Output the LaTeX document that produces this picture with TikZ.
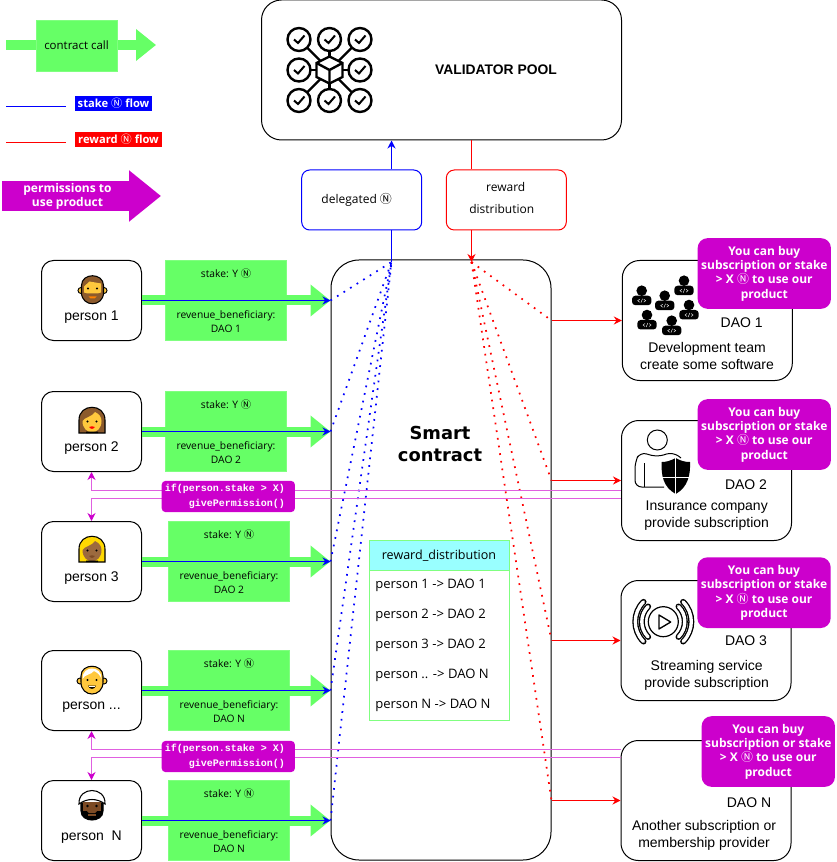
\documentclass[tikz,border=0pt]{standalone}
\usepackage{fontspec}
\setmainfont{Liberation Sans}
\newfontfamily\softfont{Open Sans}
\newfontfamily\symfont{Noto Sans CJK JP}
\newfontfamily\headfont{DejaVu Sans}
\newfontfamily\codefont{Liberation Mono}
\usetikzlibrary{arrows.meta,calc}
\newcommand{\Ncoin}{{\symfont\mdseries Ⓝ}}
\newcommand{\moreperson}{person ...}
\definecolor{flowgreen}{HTML}{66FF66}
\definecolor{edgegreen}{HTML}{80FF80}
\definecolor{perm}{HTML}{CC00CC}
\definecolor{permpale}{HTML}{E060E0}
\definecolor{headcyan}{HTML}{99FFFF}
\definecolor{yskin}{HTML}{FFC83D}
\definecolor{bskin}{HTML}{9C6A3E}
\definecolor{dskin}{HTML}{7C4A24}
\definecolor{bhair}{HTML}{8C5A2C}
\definecolor{yhair}{HTML}{FFD800}
\tikzset{
  personbox/.style={draw,fill=white,line width=.75pt,rounded corners=9pt,minimum width=75pt,minimum height=60pt,inner sep=0pt},
  daobox/.style={draw,fill=white,line width=.75pt,rounded corners=13pt,minimum width=127.5pt,minimum height=90pt,inner sep=0pt},
  bigbox/.style={draw,fill=white,line width=.75pt,rounded corners=15pt,inner sep=0pt},
  flowbox/.style={draw,fill=white,line width=.75pt,rounded corners=6pt,minimum width=90pt,minimum height=45pt,inner sep=0pt},
  callbox/.style={fill=flowgreen,draw=edgegreen,line width=.4pt,minimum width=90.5pt,minimum height=60pt,inner sep=0pt},
  callarrow/.style={draw=flowgreen,line width=7.5pt,-{Triangle[length=15pt,width=23pt]}},
  permarrow/.style={draw=perm,line width=22.5pt,-{Triangle[length=24pt,width=37pt]}},
  stakeline/.style={draw,color=blue,line width=.75pt},
  rewardline/.style={draw,color=red,line width=.75pt},
  tipped/.style={-{Stealth[length=6pt,width=6pt]}},
  stakedots/.style={draw,color=blue,line width=1.3pt,dash pattern=on 1.3pt off 4.5pt},
  rewarddots/.style={draw,color=red,line width=1.3pt,dash pattern=on 1.3pt off 4.5pt},
  permline/.style={draw,color=permpale,line width=.75pt,-{Stealth[length=6pt,width=6pt,color=perm]}},
  permbox/.style={fill=perm,rounded corners=3pt,minimum width=100pt,minimum height=23.5pt,inner sep=0pt},
  permtext/.style={text=white,font=\codefont\bfseries\fontsize{7.5pt}{11pt}\selectfont,align=right,inner sep=0pt},
  tipbox/.style={fill=perm,rounded corners=7.5pt,minimum width=100pt,minimum height=53pt,inner sep=0pt,text=white,align=center,font=\softfont\bfseries\fontsize{9pt}{10.8pt}\selectfont},
  softlbl/.style={inner sep=0pt,font=\softfont\fontsize{7.7pt}{10.5pt}\selectfont,align=center},
  sidelbl/.style={softlbl,font=\softfont\fontsize{9pt}{10.5pt}\selectfont},
  keylbl/.style={text=white,minimum width=57.75pt,minimum height=11.25pt,inner sep=0pt,font=\softfont\bfseries\fontsize{8.4pt}{10pt}\selectfont},
  mainlbl/.style={inner sep=0pt,font=\fontsize{10.5pt}{12.75pt}\selectfont,align=center},
  rowlbl/.style={inner sep=0pt,anchor=west,font=\softfont\fontsize{9.8pt}{10pt}\selectfont}
}
\newcommand{\womanface}[3]{
  \draw[fill=#2,line width=.8pt] (-13,13) -- (-13,0) .. controls (-13,-17) and (13,-17) .. (13,0) -- (13,13) -- (6,13) -- (-6,13) -- cycle;
  \fill[#1] (-9.5,1) .. controls (-9.5,16) and (9.5,16) .. (9.5,1) .. controls (9.5,-3) and (7,-6) .. (3,-8) .. controls (0,-3) and (-7,-3) .. (-9.5,1) -- cycle;
  \fill[black] (-4.5,1.5) circle (1.2) (4.5,1.5) circle (1.2) (-6,13) rectangle (6,11.5);
  \fill[#3] (-3,7) .. controls (-1,6) and (1,6) .. (3,7) .. controls (1,9.5) and (-1,9.5) .. (-3,7) -- cycle;
}
\begin{document}
\begin{tikzpicture}[x=.75pt,y=-.75pt]
      \useasboundingbox (0,0) rectangle (836,862);
      \def \Persons{
        p1/300.5/person 1/226/DAO 1,
        p2/431.5/person 2/226/DAO 2,
        p3/561.5/person 3/229/DAO 2,
        p4/690.5/\moreperson/229/DAO N,
        pn/820.5/person\ \ N/229/DAO N}
      \def \Daos{
        dao1/707.3/320.5,
        dao2/706.5/480.5,
        dao3/706/640.5,
        daon/706/800.5}
      \def \Rows{
        585.5/person 1 -> DAO 1,
        615.5/person 2 -> DAO 2,
        645.5/person 3 -> DAO 2,
        675.5/person .. -> DAO N,
        705.5/person N -> DAO N}
      \def \Offers{
        tip1/764.3/273.5,
        tip2/764.3/434.5,
        tip3/764/592.7,
        tipn/768.3/751.5}

      \coordinate (callstart) at (6,45);
      \coordinate (callend) at (156,45);
      \coordinate (permstart) at (2,196);
      \coordinate (permend) at (161,196);
      \coordinate (stakea) at (6,106.5);
      \coordinate (stakeb) at (66,106.5);
      \coordinate (rewarda) at (6,142.5);
      \coordinate (rewardb) at (66,142.5);
      \coordinate (stakeout) at (391.5,262);
      \coordinate (rewardout) at (471.5,262);

      \path[callarrow] (callstart) -- (callend);
      \node[callbox,minimum width=60.5pt,minimum height=38pt,softlbl,font=\softfont\fontsize{8.6pt}{10pt}\selectfont] (callkey) at (76.5,45.5) {contract call};
      \path[stakeline] (stakea) -- (stakeb);
      \path[rewardline] (rewarda) -- (rewardb);
      \node[fill=blue,keylbl] (stakekey) at (113.5,103.5) {stake \Ncoin\ flow};
      \node[fill=red,keylbl,minimum width=65.25pt] (rewardkey) at (118.5,139.5) {reward \Ncoin\ flow};
      \path[permarrow] (permstart) -- (permend);
      \node[text=white,align=center,inner sep=0pt,font=\softfont\bfseries\fontsize{9pt}{10.2pt}\selectfont] (permkey) at (67.5,196.5) {permissions to\\use product};

      \node[bigbox,minimum width=270pt,minimum height=105pt] (pool) at (441.5,70) {};
      \node[inner sep=0pt,font=\bfseries\fontsize{10.4pt}{12pt}\selectfont] (poollbl) at (496,70) {VALIDATOR POOL};
      \node[flowbox,draw=blue] (delegated) at (361.7,200) {};
      \node[sidelbl] (delegatedlbl) at (356.7,200) {delegated \Ncoin};
      \node[flowbox,draw=red] (rewardbox) at (506.3,200) {};
      \node[sidelbl] (rewardlbla) at (505.7,187.5) {reward};
      \node[sidelbl] (rewardlblb) at (501.7,209) {distribution};

      \node[bigbox,rounded corners=21pt,minimum width=165pt,minimum height=450pt] (smart) at (441,560) {};
      \node[inner sep=0pt,align=center,font=\headfont\bfseries\fontsize{13.4pt}{16pt}\selectfont] (smartlbl) at (440,444) {Smart\\contract};

      \path[stakeline,tipped] (delegated.north -| stakeout) -- (stakeout |- pool.south);
      \path[stakeline] (delegated.south -| stakeout) -- (stakeout);
      \path[rewardline] (pool.south -| rewardout) -- (rewardout |- rewardbox.north);
      \path[rewardline,tipped] (rewardout |- rewardbox.south) -- (rewardout);

      \node[fill=headcyan,draw=edgegreen,line width=.75pt,minimum width=105pt,minimum height=22.5pt,inner sep=0pt,softlbl,font=\softfont\fontsize{9.4pt}{10pt}\selectfont] (rdhead) at (439,555.7) {reward\_distribution};
      \node[fill=white,draw=edgegreen,line width=.75pt,minimum width=105pt,minimum height=112.5pt,inner sep=0pt] (rdbody) at (439,645.7) {};
      \foreach \y / \txt in \Rows{
        \node[rowlbl] at (375,\y) {\txt};
      }

      \foreach \id / \y / \who / \gx / \dao in \Persons{
        \node[personbox] (\id) at (91.5,\y) {};
        \node[mainlbl] (\id-lbl) at (91.5,\y+17) {\who};
        \node[callbox] (\id-call) at (\gx,\y) {};
        \node[softlbl] (\id-stake) at (\gx,\y-27) {stake: Y \Ncoin};
        \node[softlbl] (\id-rev) at (\gx,\y+21) {revenue\_beneficiary:\\\dao};
        \path[callarrow] (\id.east) -- (\id.east -| smart.west);
        \path[stakeline,tipped] (\id.east) -- (\id.east -| smart.west);
        \path[stakedots] (\id.east -| smart.west) -- (stakeout);
      }

      \foreach \id / \x / \y in \Daos{
        \node[daobox] (\id) at (\x,\y) {};
        \path[rewarddots] (rewardout) -- (\id.west -| smart.east);
        \path[rewardline,tipped] (\id.west -| smart.east) -- (\id.west);
      }
      \node[mainlbl] (dao1-name) at (741.7,323) {DAO 1};
      \node[mainlbl] (dao1-lbl) at (707,355.5) {Development team\\create some software};
      \node[mainlbl] (dao2-name) at (746,485) {DAO 2};
      \node[mainlbl] (dao2-lbl) at (706.7,515.5) {Insurance company\\provide subscription};
      \node[mainlbl] (dao3-name) at (746,641) {DAO 3};
      \node[mainlbl] (dao3-lbl) at (706.7,675.5) {Streaming service\\provide subscription};
      \node[mainlbl] (daon-name) at (749,803) {DAO N};
      \node[mainlbl] (daon-lbl) at (704,835.5) {Another subscription or\\membership provider};

      \foreach \id / \x / \y in \Offers{
        \node[tipbox] (\id) at (\x,\y) {You can buy\\subscription or stake\\> X \Ncoin\ to use our\\product};
      }

      \path[permline] ([yshift=-7.5pt]dao2.west) -| (p2.south);
      \path[permline] ([yshift=-13.5pt]dao2.west) -| (p3.north);
      \path[permline] ([yshift=38.25pt]daon.west) -| (p4.south);
      \path[permline] ([yshift=32.25pt]daon.west) -| (pn.north);
      \node[permbox] (permif1) at (228.3,496.5) {};
      \node[permtext,anchor=east] (permif1-txt) at ([xshift=-7.5pt]permif1.east) {if(person.stake > X)\\givePermission()};
      \node[permbox] (permif2) at (228.3,756.5) {};
      \node[permtext,anchor=east] (permif2-txt) at ([xshift=-7.5pt]permif2.east) {if(person.stake > X)\\givePermission()};

      \begin{scope}[shift={(329.5,70)}]
        \foreach \cx / \cy in {-30.5/-30.5,0/-30.5,30.5/-30.5,-30.5/0,30.5/0,-30.5/30.5,0/30.5,30.5/30.5}{
          \draw[line width=1.8pt] (0,0) -- (\cx,\cy);
          \draw[line width=1.8pt,fill=white] (\cx,\cy) circle (11.5);
          \draw[line width=1.5pt] (\cx-5,\cy) -- (\cx-1,\cy+3.5) -- (\cx+5.5,\cy-4);
        }
        \draw[line width=1.8pt,fill=white] (0,-13.5) -- (13,-7) -- (13,7) -- (0,13.5) -- (-13,7) -- (-13,-7) -- cycle;
        \draw[line width=1.8pt] (-13,-7) -- (0,0) -- (13,-7) (0,0) -- (0,13.5);
      \end{scope}

      \foreach \hx / \hy in {641.7/290.7,664.7/295.7,684/280.7,647/315,689/305,671.7/320.7}{
        \fill (\hx,\hy) circle (5.3);
        \fill[rounded corners=2.5pt] (\hx-9.7,\hy+5) rectangle (\hx+9.7,\hy+14.5);
        \draw[white,line width=.3pt] (\hx-2,\hy+8.5) -- (\hx-4,\hy+10) -- (\hx-2,\hy+11.5) (\hx+2,\hy+8.5) -- (\hx+4,\hy+10) -- (\hx+2,\hy+11.5) (\hx-.8,\hy+12) -- (\hx+.8,\hy+8);
      }

      \draw[line width=.75pt] (657.3,440) circle (10);
      \draw[line width=.75pt,rounded corners=5pt] (664,487) -- (635,487) -- (635,462) -- (640,452) -- (657,457) -- (673,452) -- (681,458);
      \draw[line width=.75pt] (644,463) -- (644,487);
      \fill (675.7,458) .. controls (670,461) and (666,462) .. (661.7,462) .. controls (661,475) and (663,487) .. (675.7,494) .. controls (688,487) and (690.5,475) .. (690,462) .. controls (685,462) and (681,461) .. (675.7,458) -- cycle;
      \draw[white,line width=.6pt] (675.7,458) -- (675.7,494) (661.7,477) -- (690,477);

      \draw[line width=.9pt] (663.3,621.7) circle (15);
      \draw[line width=1pt,line join=round] (659,615) -- (670.7,622) -- (659,629) -- cycle;
      \foreach \a / \r in {135/21.5,135/28,-45/21.5,-45/28}{
        \draw[line width=4.5pt,line cap=round] (663.3,621.7) ++(\a:\r) arc[start angle=\a,end angle=\a+90,radius=\r];
        \draw[white,line width=2.5pt,line cap=round] (663.3,621.7) ++(\a:\r) arc[start angle=\a,end angle=\a+90,radius=\r];
      }

      \begin{scope}[shift={(92.5,289.5)}]
        \draw[fill=yskin,line width=.7pt] (-11.5,1) circle (3) (11.5,1) circle (3);
        \draw[fill=bhair,line width=.8pt] (-11,-4) .. controls (-11,-17) and (11,-17) .. (11,-4) -- (11,3) .. controls (11,18) and (-11,18) .. (-11,3) -- cycle;
        \fill[yskin] (-8.5,3) -- (-8.5,-3) -- (-3,-8) -- (8.5,-6) -- (8.5,3) -- (5,4) -- (-5,4) -- cycle;
        \fill[black] (-4.5,-1) circle (1.2) (4.5,-1) circle (1.2);
        \fill[orange] (-4,7) -- (4,7) -- (2,9) -- (-2,9) -- cycle;
      \end{scope}
      \begin{scope}[shift={(92,420)}]
        \womanface{yskin}{bhair}{red}
      \end{scope}
      \begin{scope}[shift={(92,549)}]
        \womanface{bskin}{yhair}{dskin}
      \end{scope}
      \begin{scope}[shift={(92,680)}]
        \draw[fill=yskin,line width=.7pt] (-12,1) circle (3) (12,1) circle (3);
        \draw[fill=yskin,line width=.8pt] (-11,-4) .. controls (-11,-17) and (11,-17) .. (11,-4) -- (11,2) .. controls (11,18) and (-11,18) .. (-11,2) -- cycle;
        \fill[white] (-9.5,-1) .. controls (-10,-15) and (10,-15) .. (9.5,-1) .. controls (8,-6) and (4,-8) .. (2,-9) .. controls (-1,-5) and (-7,-6) .. (-9.5,-1) -- cycle;
        \fill[black] (-4.5,0) circle (1.2) (4.5,0) circle (1.2);
        \fill[black] (-4,5.5) -- (4,5.5) .. controls (3,10) and (-3,10) .. (-4,5.5) -- cycle;
        \fill[white] (-3,5.5) rectangle (3,6.8);
      \end{scope}
      \begin{scope}[shift={(92,807)}]
        \draw[fill=black,line width=.8pt] (-11,-4) -- (11,-4) -- (11,4) .. controls (11,16) and (-11,16) .. (-11,4) -- cycle;
        \fill[dskin] (-9,-5) rectangle (9,4);
        \fill[dskin] (-5,4) -- (5,4) -- (3,6) -- (-3,6) -- cycle;
        \draw[fill=white,line width=.8pt] (-13,-3) .. controls (-14,-21) and (14,-21) .. (13,-3) .. controls (5,-9) and (-5,-9) .. (-13,-3) -- cycle;
        \fill[black] (-4.5,-1) circle (1.4) (4.5,-1) circle (1.4);
        \fill[dskin] (-4,7) rectangle (4,9);
      \end{scope}
    \end{tikzpicture}
\end{document}
